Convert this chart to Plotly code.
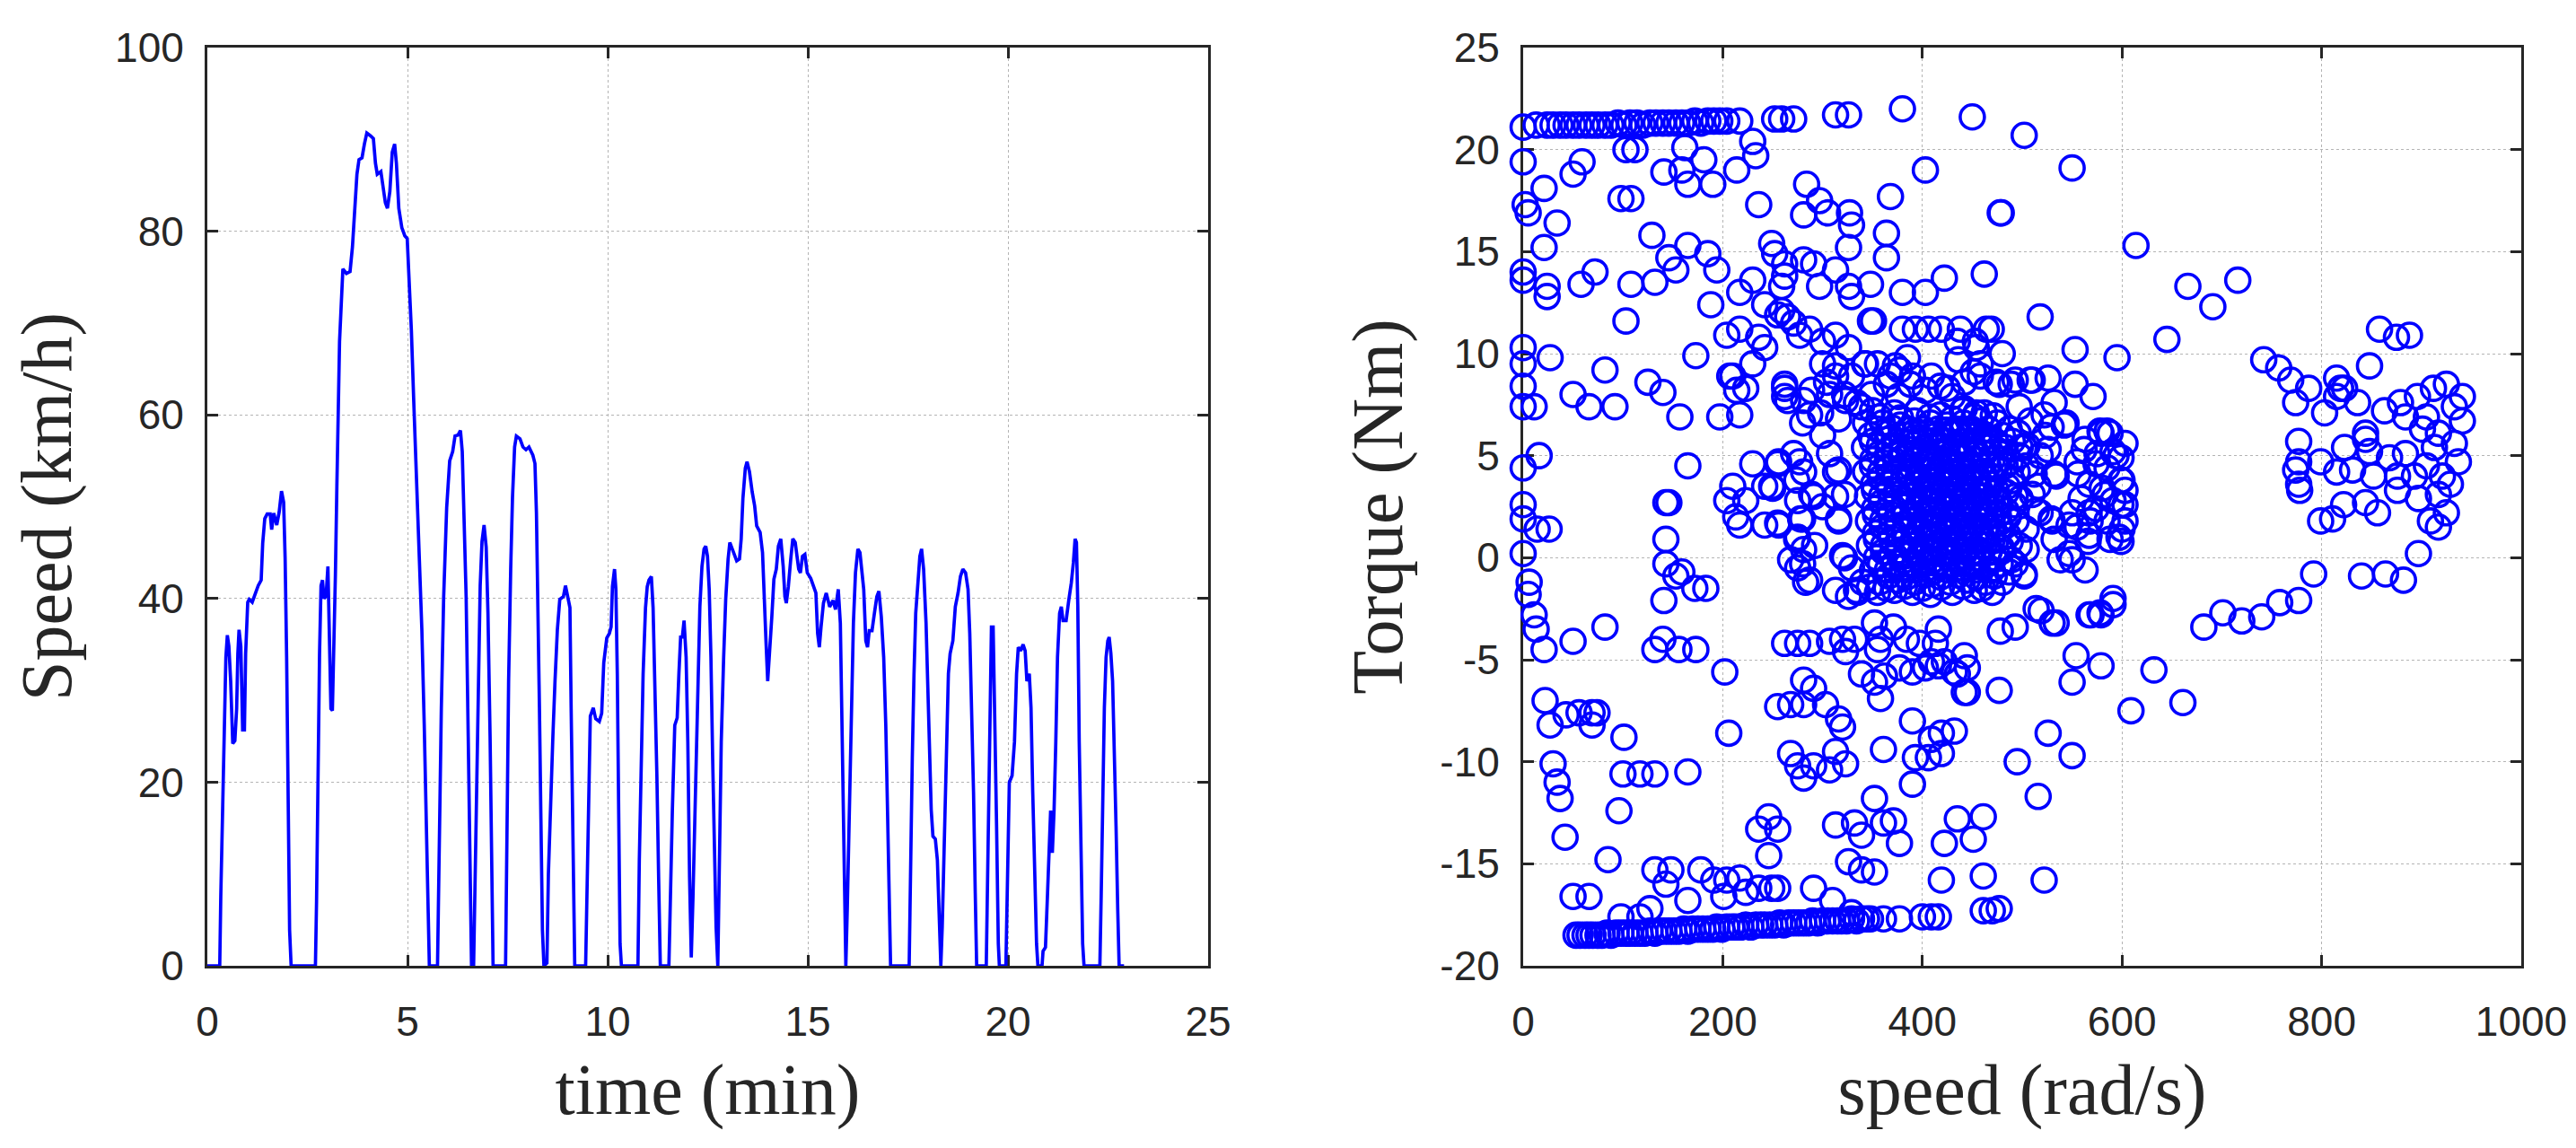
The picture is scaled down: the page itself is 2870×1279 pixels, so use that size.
import plotly.graph_objects as go

# ---------------- Left panel: drive cycle ----------------
time_min = [0, 0.31, 0.336, 0.389, 0.426, 0.463, 0.50, 0.538, 0.583, 0.635, 0.688, 0.732, 0.762, 0.792, 0.837,
            0.882, 0.927, 0.957, 1.009, 1.046, 1.121, 1.196, 1.271, 1.345, 1.383, 1.435, 1.495, 1.57, 1.607,
            1.659, 1.734, 1.794, 1.853, 1.906, 1.943, 1.981, 2.018, 2.055, 2.093, 2.70,
            2.728, 2.765, 2.803, 2.84, 2.877, 2.915, 2.967, 3.012, 3.049, 3.087, 3.124, 3.161, 3.199, 3.236,
            3.266, 3.303, 3.348, 3.386, 3.475, 3.565, 3.625, 3.677, 3.737, 3.789, 3.864, 3.924, 3.984, 4.073,
            4.148, 4.2, 4.245, 4.335, 4.395, 4.447, 4.499, 4.559, 4.619, 4.679, 4.723, 4.783, 4.858, 4.933,
            4.993, 5.045, 5.097, 5.157, 5.209, 5.254, 5.306, 5.359, 5.418, 5.471, 5.516, 5.546, 5.75,
            5.792, 5.845, 5.904, 5.979, 6.054, 6.129, 6.188, 6.263, 6.323, 6.368, 6.413, 6.465, 6.517, 6.562,
            6.599, 6.652, 6.704, 6.764, 6.816, 6.861, 6.913, 6.966, 7.01, 7.063, 7.1, 7.138, 7.45,
            7.474, 7.526, 7.578, 7.623, 7.676, 7.72, 7.81, 7.885, 7.96, 8.034, 8.132, 8.184, 8.221, 8.259,
            8.296, 8.333, 8.371, 8.408, 8.483, 8.52, 8.58, 8.632, 8.685, 8.744, 8.804, 8.894, 8.946, 8.991,
            9.058, 9.088, 9.133, 9.178, 9.45,
            9.477, 9.529, 9.567, 9.641, 9.701, 9.791, 9.851, 9.903, 9.978, 10.043, 10.086, 10.12, 10.172,
            10.206, 10.241, 10.275, 10.31, 10.344, 10.757,
            10.791, 10.834, 10.886, 10.946, 10.989, 11.032, 11.092, 11.135, 11.187, 11.23, 11.273, 11.316, 11.53,
            11.574, 11.617, 11.677, 11.737, 11.78, 11.823, 11.866, 11.909, 11.96, 12.003, 12.046, 12.089,
            12.132, 12.193, 12.253, 12.304, 12.356, 12.408, 12.451, 12.494, 12.537, 12.58, 12.623, 12.666,
            12.709, 12.752, 12.795, 12.838, 12.898, 12.949, 13.009, 13.052, 13.113, 13.181, 13.224, 13.293,
            13.336, 13.379, 13.439, 13.482, 13.543, 13.611, 13.672, 13.723, 13.809, 13.869, 13.912, 13.955,
            13.998, 14.041, 14.101, 14.153, 14.213, 14.265, 14.325, 14.385, 14.428, 14.463, 14.514, 14.574,
            14.626, 14.686, 14.729, 14.772, 14.815, 14.867, 14.927, 14.987, 15.073, 15.142, 15.202, 15.245,
            15.288, 15.331, 15.391, 15.46, 15.546, 15.632, 15.692, 15.761, 15.813, 15.847, 15.881, 15.916,
            15.95, 15.985, 16.036, 16.088, 16.139, 16.191, 16.251, 16.303, 16.346, 16.397, 16.449, 16.492,
            16.535, 16.604, 16.664, 16.724, 16.776, 16.836, 16.896, 16.948, 16.991, 17.034, 17.068, 17.532,
            17.567, 17.61, 17.653, 17.696, 17.756, 17.799, 17.842, 17.893, 17.954, 17.997, 18.04, 18.083,
            18.126, 18.186, 18.237, 18.28, 18.323, 18.358, 18.409, 18.452, 18.512, 18.555, 18.624, 18.685,
            18.753, 18.813, 18.874, 18.942, 19.003, 19.046, 19.097, 19.14, 19.183, 19.218, 19.458,
            19.501, 19.544, 19.587, 19.63, 19.673, 19.716, 19.759, 19.785, 19.948,
            19.991, 20.034, 20.103, 20.163, 20.215, 20.258, 20.318, 20.378, 20.43, 20.473, 20.533, 20.576,
            20.619, 20.662, 20.714, 20.748, 20.851,
            20.877, 20.937, 20.989, 21.032, 21.066, 21.109, 21.152, 21.195, 21.238, 21.29, 21.333, 21.376,
            21.453, 21.522, 21.582, 21.634, 21.677, 21.711, 21.745, 21.78, 21.823, 21.866, 21.9, 22.296,
            22.33, 22.365, 22.408, 22.451, 22.494, 22.528, 22.571, 22.614, 22.657, 22.7, 22.743, 22.777, 22.9]

speed_kmh = [0, 0, 7.6, 17.8, 27.5, 33.6, 36, 34.8, 31, 24.2, 24.5, 28, 34, 36.6, 34.8,
             25.7, 25.7, 34, 39.6, 39.9, 39.6, 40.5, 41.4, 42, 46, 48.7, 49.2, 49.2, 47.5,
             49.3, 48, 49.4, 51.7, 50.5, 44.4, 33.6, 19, 3.9, 0, 0,
             7, 22, 34, 41.4, 42, 40, 40.3, 43.5, 37, 28, 27.8, 34, 42.6, 52.3,
             60.8, 68, 72.3, 75.9, 75.4, 75.6, 78.3, 82, 86.2, 87.8, 88, 89.5, 90.7, 90.4,
             90.1, 87.4, 86.2, 86.5, 84.3, 83.1, 82.5, 84.3, 88.6, 89.5, 87.4, 82.5, 80.4, 79.5,
             79.2, 74.7, 69.2, 61.4, 55.3, 50.5, 44.4, 36.6, 26.3, 16, 5.1, 0, 0,
             13, 28, 40.2, 49.9, 55, 56, 57.7, 57.8, 58.3, 56, 48.7, 40.2, 25, 10,
             0, 0, 13, 31, 41.4, 46.2, 48, 45.6, 38.4, 25, 13, 0, 0,
             13, 31, 43.2, 51, 56.5, 57.7, 57.4, 56.5, 56.2, 56.5, 55.6, 54.7, 49.3, 40.2,
             28.1, 16, 3.9, 0, 0.3, 10, 19, 25, 31, 36.6, 39.9, 40.2, 41.4, 40.5,
             39, 28.1, 13, 0, 0,
             7, 19, 27.2, 28.1, 26.9, 26.6, 27.5, 33, 35.7, 36.2, 36.9, 41.3, 43.2,
             41, 31.8, 17, 2.4, 0, 0,
             11.5, 20.7, 31.8, 39, 41.3, 42, 42.4, 39, 29.9, 20.7, 9.7, 0, 0,
             9.7, 17, 26.2, 27, 31.8, 35.8, 35.8, 37.6, 33.6, 24.4, 9.7, 0.9,
             7.5, 18.9, 29.9, 39.1, 43.5, 45.4, 45.7, 44.6, 41, 33.6, 22.6, 11.5,
             4.2, 0, 11.5, 24.4, 33.6, 39.9, 44.3, 46.1, 45.4, 44.6, 44.1, 44.3,
             46.5, 50.9, 54.2, 54.9, 53.8, 51.6, 50.1, 47.9, 47.2, 45, 41, 35.4,
             31, 33.6, 38, 42.1, 43.2, 45.7, 46.5, 43.5, 40.2, 39.5, 41.3, 44.3,
             46.5, 46.1, 44.6, 43.2, 42.8, 44.6, 44.8, 42.8, 42.2, 41.3, 40.6, 36.2,
             34.7, 36.9, 39.5, 40.6, 39.1, 39.8, 38.8, 41, 37.3, 28.1, 17, 6,
             0, 6, 17, 28.1, 37.3, 42.8, 45.4, 45, 42.8, 41, 35.4, 34.7,
             36.5, 36.5, 38.4, 40.2, 40.8, 38, 33.6, 26.2, 17, 6, 0, 0,
             11.5, 22.6, 31.8, 38.4, 42, 44.6, 45.4, 43.2, 37.3, 29.9, 22.6, 17,
             14.1, 13.8, 11.5, 6, 0, 4.2, 13.4, 22.6, 31.8, 34, 35.4, 39.1,
             40.6, 42.4, 43.2, 42.8, 41, 36.2, 28.1, 18.9, 7.9, 0, 0,
             13.4, 28.1, 36.9, 36.9, 28.1, 15.2, 2.4, 0, 0,
             11.5, 20, 20.7, 24.4, 31.8, 34.7, 34.3, 35, 34.3, 31, 31.8, 28.1,
             18.9, 9.7, 2.4, 0, 0,
             1.6, 2, 7.9, 13.4, 16.9, 12.3, 17, 24.4, 33.6, 38.4, 39.1, 37.6,
             37.6, 39.9, 41.7, 43.9, 46.5, 46.1, 39.1, 24.4, 11.5, 2.4, 0, 0,
             7.9, 18.9, 28.1, 33.6, 35.4, 35.8, 34, 31, 24.4, 15.2, 6, 0, 0]

# ---------------- Right panel: motor operating points (speed rad/s, torque Nm) ----------------
top_band = [(0, 21.1), (13, 21.2), (24, 21.2), (30, 21.2), (37, 21.2), (43, 21.2), (50, 21.2), (56, 21.2),
            (63, 21.2), (69, 21.2), (75, 21.2), (82, 21.2), (88, 21.2), (95, 21.3), (101, 21.2), (107, 21.3),
            (114, 21.3), (120, 21.2), (127, 21.3), (133, 21.3), (140, 21.3), (146, 21.3), (153, 21.3),
            (159, 21.3), (165, 21.3), (172, 21.4), (178, 21.3), (185, 21.4), (191, 21.4), (197, 21.4),
            (204, 21.4), (217, 21.4), (252, 21.5), (259, 21.5), (271, 21.5), (313, 21.7), (326, 21.7),
            (380, 22.0), (450, 21.6), (502, 20.7)]

bottom_band = [(53, -18.5), (57, -18.5), (62, -18.5), (66, -18.5), (70, -18.5), (75, -18.5), (79, -18.5),
               (84, -18.4), (88, -18.5), (93, -18.4), (98, -18.4), (103, -18.4), (107, -18.4), (112, -18.4),
               (117, -18.4), (122, -18.4), (127, -18.3), (132, -18.4), (136, -18.3), (141, -18.3), (146, -18.3),
               (151, -18.3), (156, -18.3), (161, -18.2), (165, -18.3), (170, -18.2), (175, -18.2), (180, -18.2),
               (185, -18.2), (190, -18.2), (194, -18.1), (199, -18.2), (204, -18.1), (209, -18.1), (213, -18.1),
               (218, -18.1), (223, -18.0), (228, -18.1), (233, -18.0), (238, -18.0), (242, -18.0), (247, -18.0),
               (252, -18.0), (257, -17.9), (261, -18.0), (266, -17.9), (271, -17.9), (276, -17.9), (281, -17.9),
               (286, -17.9), (290, -17.8), (295, -17.9), (300, -17.8), (305, -17.8), (310, -17.8), (315, -17.8),
               (319, -17.8), (324, -17.8), (329, -17.7), (334, -17.8), (339, -17.7), (344, -17.7), (348, -17.7),
               (361, -17.7), (377, -17.7), (400, -17.6), (409, -17.6), (416, -17.6), (461, -17.3), (470, -17.3),
               (477, -17.2)]

low_speed_points = [(0, 19.4), (103, 20.0), (112, 20.0), (162, 20.1), (230, 20.4), (233, 19.7), (50, 18.8),
                    (59, 19.4), (141, 18.9), (159, 19.0), (181, 19.5), (165, 18.3), (190, 18.3), (214, 19.0),
                    (21, 18.1), (2, 17.3), (5, 16.9), (98, 17.6), (108, 17.6), (236, 17.3), (34, 16.4),
                    (129, 15.8), (21, 15.2), (165, 15.3), (185, 14.9), (146, 14.7), (153, 14.1), (194, 14.1),
                    (0, 14.0), (0, 13.6), (72, 14.0), (24, 13.3), (24, 12.8), (58, 13.4), (108, 13.4),
                    (132, 13.5), (103, 11.6), (188, 12.4), (0, 10.3), (0, 9.5), (0, 8.4), (0, 7.4), (27, 9.8),
                    (82, 9.2), (173, 9.9), (125, 8.6), (140, 8.1), (50, 8.0), (66, 7.4), (92, 7.4), (11, 7.4),
                    (157, 6.9), (197, 6.9), (217, 7.0), (207, 8.9), (214, 8.2), (0, 4.4), (16, 5.0), (165, 4.5),
                    (143, 2.7), (146, 2.7), (0, 2.6), (0, 1.9), (14, 1.4), (26, 1.4), (0, 0.2), (143, 0.9),
                    (143, -0.3), (153, -0.9), (172, -1.5), (159, -0.7), (183, -1.5), (141, -2.1), (6, -1.2),
                    (5, -1.8), (11, -2.8), (13, -3.5), (21, -4.5), (50, -4.1), (82, -3.4), (140, -4.0),
                    (132, -4.5), (156, -4.5), (173, -4.5), (202, -5.6), (22, -7.0), (27, -8.2), (43, -7.7),
                    (56, -7.6), (69, -7.6), (74, -7.6), (69, -8.2), (101, -8.8), (206, -8.6), (30, -10.1),
                    (34, -11.0), (37, -11.8), (100, -10.6), (117, -10.6), (132, -10.6), (165, -10.5), (96, -12.4),
                    (42, -13.7), (85, -14.8), (132, -15.3), (148, -15.3), (143, -16.0), (178, -15.3), (191, -15.8),
                    (50, -16.6), (66, -16.6), (165, -16.8), (204, -15.8), (217, -15.7), (201, -16.6), (223, -16.4),
                    (236, -16.2), (249, -16.2), (255, -16.2), (291, -16.2), (127, -17.2), (98, -17.6), (117, -17.6)]

mid_speed_points = [(284, 18.3), (297, 17.5), (305, 16.9), (281, 16.8), (327, 16.9), (329, 16.3), (326, 15.2),
                    (403, 19.0), (368, 17.7), (364, 15.9), (364, 14.7), (478, 16.9), (249, 15.4), (252, 14.9),
                    (262, 14.4), (281, 14.6), (291, 14.4), (313, 14.1), (326, 13.3), (329, 12.8), (348, 13.4),
                    (230, 13.6), (262, 13.8), (259, 13.3), (217, 13.0), (242, 12.4), (259, 12.1), (297, 13.3),
                    (380, 13.0), (403, 13.0), (422, 13.7), (462, 13.9), (348, 11.6), (351, 11.6), (380, 11.2),
                    (393, 11.2), (406, 11.2), (419, 11.2), (438, 11.2), (469, 11.2), (255, 11.9), (265, 11.8),
                    (271, 11.5), (277, 10.9), (204, 10.9), (217, 11.2), (236, 10.8), (242, 10.3), (230, 9.5),
                    (287, 11.2), (300, 10.6), (313, 10.9), (326, 10.3), (210, 8.9), (223, 8.3), (262, 8.3),
                    (265, 7.7), (281, 7.7), (287, 7.0), (300, 9.5), (313, 8.9), (329, 8.9), (342, 9.5), (307, 8.0),
                    (323, 7.7), (339, 7.4), (355, 9.5), (368, 8.9), (377, 9.2), (390, 8.9), (409, 8.9), (425, 8.3),
                    (442, 8.6), (458, 8.9), (474, 8.6), (454, 10.3), (458, 9.5), (435, 10.6), (464, 11.2),
                    (480, 10.0), (453, 10.6), (289, 8.2), (304, 8.6), (322, 8.0), (334, 7.6), (349, 8.0),
                    (364, 8.5), (376, 7.9), (388, 8.5), (403, 8.2), (418, 8.4), (430, 7.9), (442, 7.3), (454, 7.1),
                    (316, 6.8), (298, 7.1), (280, 6.6), (262, 7.9), (262, 8.5), (313, 9.4), (343, 9.5),
                    (373, 9.4), (385, 9.8), (436, 9.7), (451, 9.1),
                    (230, 4.6), (255, 4.6), (210, 3.5), (223, 2.8), (204, 2.8), (213, 2.0), (217, 1.6), (242, 3.5),
                    (249, 3.5), (242, 1.6), (255, 1.7), (271, 5.1), (281, 4.2), (275, 2.8), (278, 1.9), (275, 1.0),
                    (281, 0.4), (275, -0.5), (287, -1.1), (268, -0.1), (291, 3.0), (300, 2.5), (316, 1.9),
                    (313, 3.0), (313, 4.2), (307, 5.1), (300, 6.0), (320, 0.1), (329, -0.5), (313, -1.6),
                    (326, -1.9), (256, 4.7), (277, 4.7), (316, 4.3), (274, 3.8), (250, 3.4), (289, 3.1),
                    (322, 3.1), (280, 1.9), (256, 1.6), (316, 1.8), (274, 0.9), (292, 0.6), (280, -0.3),
                    (322, 0.0), (283, -1.2), (334, -1.6)]

negative_mid_points = [(262, -4.2), (275, -4.2), (287, -4.2), (307, -4.1), (320, -4.0), (332, -4.0), (323, -4.6),
                       (352, -3.2), (355, -4.5), (358, -4.0), (371, -3.4), (384, -4.0), (397, -4.2), (339, -5.7),
                       (352, -6.1), (358, -6.9), (281, -6.0), (291, -6.4), (303, -7.2), (281, -7.2), (268, -7.2),
                       (255, -7.3), (316, -7.9), (320, -8.3), (390, -8.0), (377, -5.4), (390, -5.6), (403, -5.4),
                       (409, -5.1), (413, -4.2), (416, -3.5), (442, -4.8), (445, -5.4), (445, -6.6), (477, -6.5),
                       (409, -8.9), (419, -8.6), (432, -8.5), (406, -9.8), (393, -9.8), (419, -9.6), (390, -11.1),
                       (268, -9.6), (275, -10.2), (281, -10.8), (291, -10.2), (307, -10.4), (313, -9.5),
                       (323, -10.1), (361, -9.4), (352, -11.8), (246, -12.7), (236, -13.3), (255, -13.3),
                       (246, -14.6), (313, -13.1), (332, -13.0), (339, -13.6), (361, -13.0), (371, -12.9),
                       (377, -14.0), (326, -14.9), (339, -15.3), (352, -15.4), (422, -14.0), (435, -12.8),
                       (451, -13.8), (461, -12.7), (419, -15.8), (461, -15.6), (310, -16.8), (329, -17.4),
                       (422, -5.1), (435, -5.7), (442, -6.6), (416, -5.3), (432, -5.6), (362, -5.8)]

dense_core = [(350, 7.2), (372, 7.1), (395, 7.2), (418, 7.0), (440, 7.2), (462, 7.1),
              (343, 6.6), (360, 6.6), (378, 6.5), (392, 6.7), (408, 6.6), (425, 6.5), (441, 6.6), (458, 6.7), (475, 6.6),
              (348, 6.0), (366, 6.1), (384, 6.0), (398, 5.9), (414, 6.0), (430, 6.1), (446, 6.0), (462, 5.9), (480, 6.0), (496, 6.1),
              (342, 5.4), (357, 5.5), (372, 5.4), (388, 5.3), (402, 5.4), (418, 5.5), (433, 5.4), (449, 5.3), (465, 5.4), (483, 5.4), (505, 5.5),
              (350, 4.8), (365, 4.8), (380, 4.9), (394, 4.8), (409, 4.7), (424, 4.8), (438, 4.9), (454, 4.8), (470, 4.8), (488, 4.7),
              (343, 4.2), (358, 4.2), (373, 4.1), (387, 4.2), (401, 4.3), (416, 4.2), (431, 4.1), (446, 4.2), (461, 4.2), (477, 4.3), (495, 4.2), (512, 4.1),
              (351, 3.6), (366, 3.6), (380, 3.7), (394, 3.6), (408, 3.5), (423, 3.6), (438, 3.6), (452, 3.7), (468, 3.6), (485, 3.5),
              (345, 3.0), (359, 3.0), (374, 3.1), (388, 3.0), (402, 2.9), (416, 3.0), (430, 3.1), (445, 3.0), (460, 3.0), (476, 2.9), (493, 3.0), (510, 3.1),
              (352, 2.4), (367, 2.4), (381, 2.5), (395, 2.4), (409, 2.3), (424, 2.4), (438, 2.5), (453, 2.4), (468, 2.4), (484, 2.3),
              (346, 1.8), (360, 1.8), (375, 1.9), (389, 1.8), (403, 1.7), (417, 1.8), (432, 1.9), (446, 1.8), (461, 1.8), (477, 1.7), (494, 1.8),
              (353, 1.2), (368, 1.2), (382, 1.3), (396, 1.2), (410, 1.1), (425, 1.2), (439, 1.3), (454, 1.2), (470, 1.2), (486, 1.1),
              (347, 0.6), (361, 0.6), (376, 0.7), (390, 0.6), (404, 0.5), (418, 0.6), (433, 0.7), (447, 0.6), (462, 0.6), (479, 0.5), (497, 0.6),
              (354, 0.0), (369, 0.0), (383, 0.1), (397, 0.0), (411, -0.1), (426, 0.0), (441, 0.1), (456, 0.0), (472, 0.0), (489, -0.1),
              (350, -0.6), (365, -0.6), (380, -0.5), (395, -0.6), (410, -0.7), (425, -0.6), (440, -0.5), (455, -0.6), (470, -0.6), (487, -0.7),
              (340, -1.2), (357, -1.2), (375, -1.1), (392, -1.2), (410, -1.3), (428, -1.2), (445, -1.1), (463, -1.2), (480, -1.2),
              (335, -1.7), (355, -1.7), (372, -1.6), (390, -1.7), (408, -1.8), (430, -1.7), (452, -1.6), (470, -1.7)]

dense_fill = [(386, 6.3), (401, 6.3), (416, 6.3), (433, 6.3), (449, 6.3), (466, 6.3),
              (380, 5.7), (395, 5.7), (410, 5.7), (426, 5.7), (441, 5.7), (457, 5.7), (473, 5.7),
              (387, 5.1), (402, 5.1), (417, 5.1), (431, 5.1), (446, 5.1), (462, 5.1),
              (381, 4.5), (396, 4.5), (411, 4.5), (427, 4.5), (442, 4.5), (458, 4.5), (474, 4.5),
              (388, 3.9), (403, 3.9), (418, 3.9), (433, 3.9), (448, 3.9), (463, 3.9),
              (382, 3.3), (397, 3.3), (412, 3.3), (428, 3.3), (443, 3.3), (458, 3.3), (474, 3.3),
              (389, 2.7), (404, 2.7), (419, 2.7), (434, 2.7), (449, 2.7), (464, 2.7),
              (383, 2.1), (398, 2.1), (413, 2.1), (429, 2.1), (444, 2.1), (460, 2.1), (476, 2.1),
              (390, 1.5), (405, 1.5), (420, 1.5), (435, 1.5), (450, 1.5), (465, 1.5),
              (384, 0.9), (399, 0.9), (414, 0.9), (430, 0.9), (445, 0.9), (461, 0.9),
              (391, 0.3), (406, 0.3), (421, 0.3), (436, 0.3), (451, 0.3), (467, 0.3),
              (385, -0.3), (400, -0.3), (415, -0.3), (431, -0.3), (446, -0.3), (462, -0.3)]

dense_extra = [(357, 6.9), (378, 6.85), (407, 6.9), (430, 6.8), (452, 6.9), (471, 6.95),
               (355, 6.3), (370, 6.35), (393, 6.2), (424, 6.25), (441, 6.3), (458, 6.15), (487, 6.3),
               (350, 5.7), (365, 5.8), (388, 5.65), (418, 5.75), (434, 5.6), (465, 5.75), (490, 5.7),
               (357, 5.1), (372, 5.05), (394, 5.15), (409, 5.0), (424, 5.15), (439, 5.0), (455, 5.1), (478, 5.1), (497, 5.0),
               (350, 4.5), (366, 4.4), (389, 4.45), (404, 4.6), (419, 4.4), (435, 4.55), (450, 4.4), (466, 4.5), (483, 4.5),
               (358, 3.9), (373, 3.95), (395, 3.85), (410, 3.95), (426, 3.8), (441, 3.95), (456, 3.85), (471, 3.9), (490, 3.8),
               (352, 3.3), (367, 3.35), (389, 3.25), (405, 3.35), (420, 3.2), (436, 3.35), (451, 3.25), (466, 3.3), (484, 3.2),
               (359, 2.7), (374, 2.75), (396, 2.65), (411, 2.75), (427, 2.6), (442, 2.75), (457, 2.65), (476, 2.7), (492, 2.6),
               (353, 2.1), (368, 2.15), (390, 2.05), (406, 2.15), (421, 2.0), (437, 2.15), (452, 2.05), (468, 2.1), (486, 2.0),
               (360, 1.5), (375, 1.55), (397, 1.45), (412, 1.55), (428, 1.4), (443, 1.55), (458, 1.45), (478, 1.5),
               (354, 0.9), (369, 0.95), (391, 0.85), (407, 0.95), (422, 0.8), (438, 0.95), (453, 0.85), (470, 0.9), (488, 0.8),
               (361, 0.3), (376, 0.35), (398, 0.25), (413, 0.35), (429, 0.2), (444, 0.35), (459, 0.25), (479, 0.3),
               (358, -0.3), (372, -0.25), (393, -0.35), (408, -0.25), (423, -0.4), (439, -0.25), (454, -0.35), (478, -0.3),
               (366, -0.9), (384, -0.95), (402, -0.85), (418, -0.95), (436, -0.85), (454, -0.95), (472, -0.9),
               (347, -1.45), (364, -1.5), (382, -1.4), (400, -1.5), (419, -1.45), (440, -1.4), (460, -1.5)]

high_speed_points = [(550, 19.1), (479, 16.9), (614, 15.3), (666, 13.3), (691, 12.3), (716, 13.6), (645, 10.7),
                     (518, 11.8), (553, 10.2), (595, 9.8), (489, 8.5), (510, 8.7), (526, 8.8), (553, 8.5), (571, 7.9),
                     (497, 7.4), (522, 7.0), (542, 6.5), (563, 5.8), (502, 5.4), (518, 5.0), (534, 4.0), (555, 4.7),
                     (575, 5.1), (591, 5.2), (579, 6.1), (588, 6.1), (599, 4.9), (599, 3.8), (567, 3.6), (583, 3.1),
                     (599, 2.6), (567, 2.2), (603, 1.8), (550, 2.2), (555, 1.5), (567, 1.1), (599, 0.8), (603, 3.3),
                     (518, 2.2), (530, 1.8), (538, -0.1), (550, -0.1), (563, -0.6), (502, -0.9), (493, -0.3),
                     (514, -2.5), (530, -3.2), (567, -2.8), (579, -2.8), (591, -2.3), (632, -5.5), (661, -7.1),
                     (550, -6.1), (554, -4.8), (579, -5.3), (609, -7.5), (526, -8.6), (550, -9.7), (495, -10.0),
                     (516, -11.7), (522, -15.8),
                     (477, 8.5), (493, 8.7), (508, 8.7), (532, 7.6), (544, 6.6), (529, 6.4), (523, 6.0), (508, 6.7),
                     (526, 5.3), (498, 5.4), (532, 4.1), (504, 4.5), (516, 3.5), (498, 2.9), (514, 2.3), (504, 1.4),
                     (529, 1.9), (532, 0.9), (504, 0.4), (502, -0.8), (519, -2.6), (534, -3.2), (493, -3.4),
                     (478, -3.6), (569, -2.8), (578, -2.7), (591, -2.0),
                     (585, 6.2), (578, 6.2), (594, 5.0), (600, 3.8), (603, 2.6), (597, 1.0), (588, 0.9), (562, 5.3),
                     (556, 4.1), (559, 2.9), (568, 1.8), (574, 2.4), (580, 3.4), (585, 4.4), (591, 2.8), (574, 4.6),
                     (585, 1.8), (566, 0.8), (547, 0.2), (603, 5.6), (547, 1.6), (600, 1.4)]

far_right_points = [(682, -3.4), (701, -2.7), (720, -3.1), (740, -2.9), (758, -2.2), (777, -2.1), (792, -0.8),
                    (840, -0.9), (864, -0.8), (882, -1.1), (897, 0.2), (799, 1.8), (811, 1.9), (822, 2.6),
                    (742, 9.7), (757, 9.3), (769, 8.7), (774, 7.6), (777, 5.7), (777, 4.7), (777, 3.6), (778, 3.3),
                    (774, 4.3), (787, 8.3), (803, 7.1), (815, 7.9), (819, 8.3), (836, 7.6), (799, 4.7), (815, 4.2),
                    (831, 4.3), (823, 5.4), (848, 9.4), (858, 11.2), (875, 10.8), (888, 10.9), (844, 6.1),
                    (848, 5.2), (852, 4.0), (844, 2.7), (856, 2.2), (863, 7.2), (879, 7.6), (896, 7.9), (912, 8.3),
                    (925, 8.5), (941, 7.9), (884, 6.9), (901, 6.3), (917, 6.1), (933, 5.6), (884, 5.1), (905, 4.5),
                    (921, 4.0), (937, 4.7), (876, 3.3), (897, 2.9), (917, 3.1), (929, 3.6), (909, 1.8), (917, 1.5),
                    (925, 2.2), (893, 4.0), (941, 6.7), (933, 7.4), (913, 5.4), (905, 6.9), (868, 4.9), (876, 4.0),
                    (815, 8.8), (823, 8.3), (844, 5.8)]

point_groups = [top_band, bottom_band, low_speed_points, mid_speed_points, negative_mid_points,
                dense_core, dense_fill, dense_extra, high_speed_points, far_right_points]
motor_speed = [p[0] for g in point_groups for p in g]
motor_torque = [p[1] for g in point_groups for p in g]

# tick values / labels (hyphen-minus as in the original)
speed_ticks = [0, 20, 40, 60, 80, 100]
time_ticks = [0, 5, 10, 15, 20, 25]
torque_ticks = [-20, -15, -10, -5, 0, 5, 10, 15, 20, 25]
rad_ticks = [0, 200, 400, 600, 800, 1000]

# ---------------- Figure ----------------
AX = "#262626"
tick_font = dict(family="Liberation Sans, Arial, sans-serif", size=46, color=AX)
title_font = dict(family="Liberation Serif, Times New Roman, serif", size=80, color=AX)

fig = go.Figure()
fig.add_trace(go.Scatter(x=time_min, y=speed_kmh, mode="lines",
                         line=dict(color="#0000FF", width=3.7), xaxis="x", yaxis="y",
                         showlegend=False, hoverinfo="skip"))
fig.add_trace(go.Scatter(x=motor_speed, y=motor_torque, mode="markers",
                         marker=dict(symbol="circle-open", size=27, color="#0000FF",
                                     line=dict(width=3.6, color="#0000FF")),
                         xaxis="x2", yaxis="y2", cliponaxis=False,
                         showlegend=False, hoverinfo="skip"))

axis_common = dict(showline=True, linewidth=3, linecolor=AX, mirror="ticks",
                   ticks="inside", ticklen=12, tickwidth=3, tickcolor=AX,
                   showgrid=True, gridcolor="#b4b4b4", gridwidth=1.2, griddash="dot",
                   zeroline=False, tickfont=tick_font, automargin=False, layer="below traces",
                   tickmode="array")

W, H = 2870, 1279
fig.update_layout(
    width=W, height=H,
    margin=dict(l=0, r=0, t=0, b=0),
    paper_bgcolor="white", plot_bgcolor="white",
    xaxis=dict(domain=[223 / W, 1338 / W], range=[0, 25], anchor="y",
               tickvals=time_ticks, ticktext=[str(v) for v in time_ticks],
               title=dict(text="time (min)", font=title_font, standoff=22),
               ticklabelstandoff=20, **axis_common),
    yaxis=dict(domain=[1 - 1068 / H, 1 - 45 / H], range=[0, 100], anchor="x",
               tickvals=speed_ticks, ticktext=[str(v) for v in speed_ticks],
               title=dict(text="Speed (km/h)", font=title_font, standoff=50),
               ticklabelstandoff=14, **axis_common),
    xaxis2=dict(domain=[1689 / W, 2801 / W], range=[0, 1000], anchor="y2",
                tickvals=rad_ticks, ticktext=[str(v) for v in rad_ticks],
                title=dict(text="speed (rad/s)", font=title_font, standoff=22),
                ticklabelstandoff=20, **axis_common),
    yaxis2=dict(domain=[1 - 1068 / H, 1 - 45 / H], range=[-20, 25], anchor="x2",
                tickvals=torque_ticks, ticktext=[str(v) for v in torque_ticks],
                title=dict(text="Torque (Nm)", font=title_font, standoff=16),
                ticklabelstandoff=14, **axis_common),
)

fig.write_html("out.html")
